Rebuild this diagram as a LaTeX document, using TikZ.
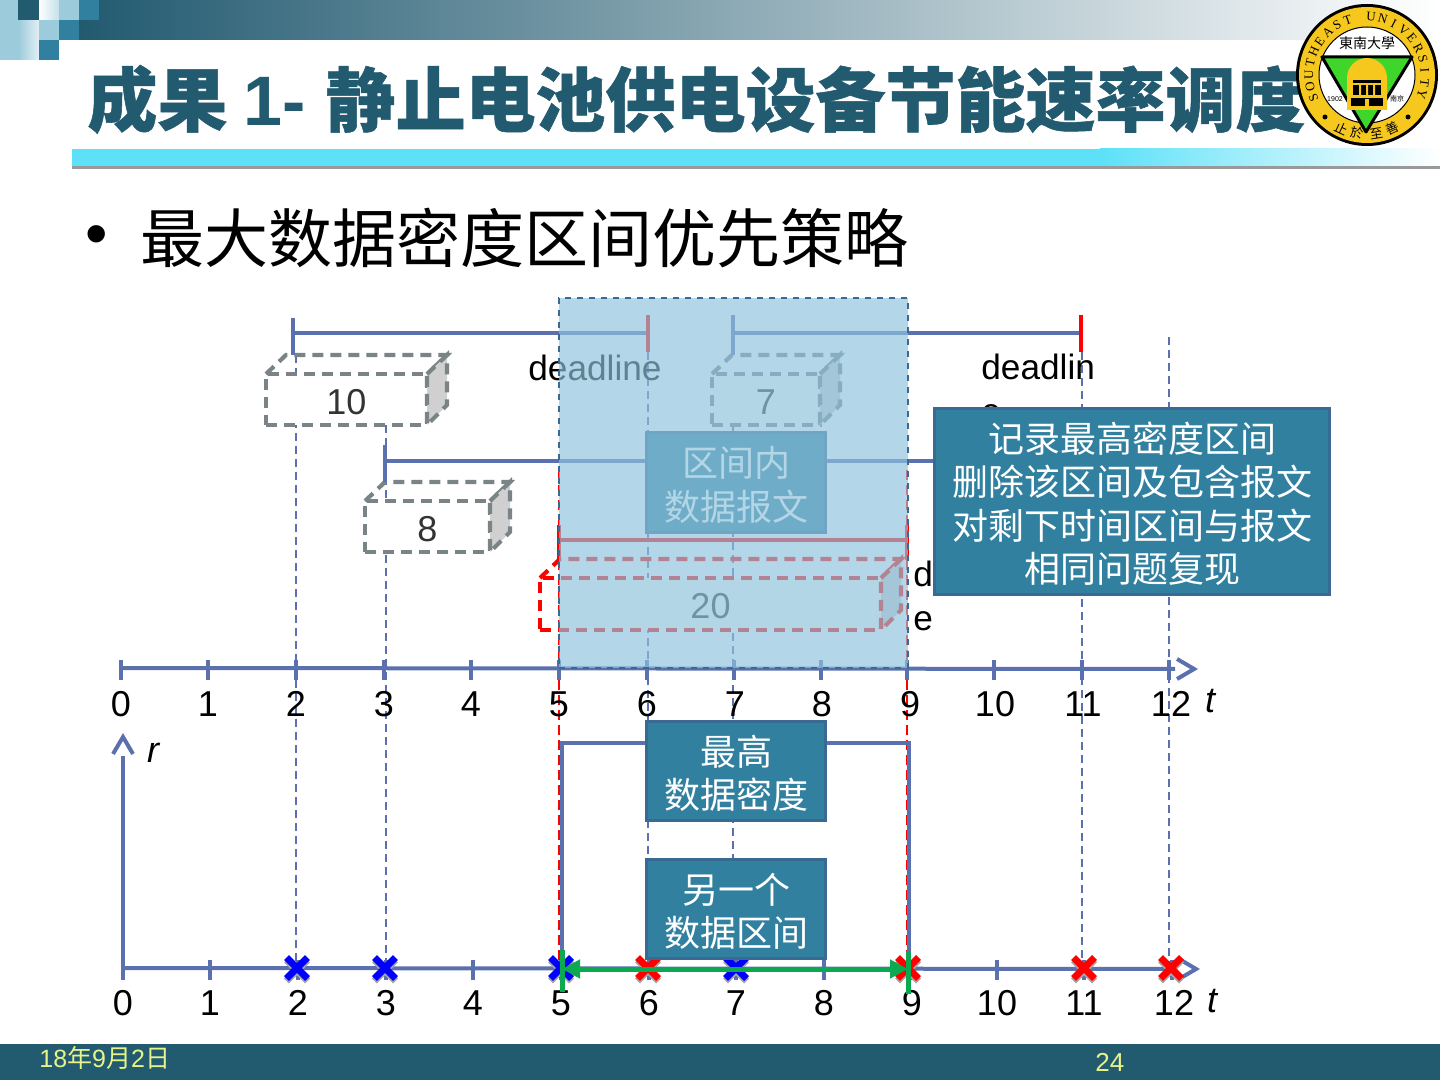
\documentclass[tikz,border=0pt]{standalone}
\usepackage{fontspec}
\setmainfont{Liberation Sans}
\newfontfamily\cjk{Noto Sans CJK SC}
\newfontfamily\cjkbold[FakeBold = 0.8]{Noto Sans CJK SC}
\newfontfamily\logoserif{Liberation Serif}
\usetikzlibrary{positioning, calc, arrows.meta, shapes.misc}
\definecolor{deep}{HTML}{225A70}
\definecolor{teal}{HTML}{31809F}
\definecolor{pale}{HTML}{9CCBDC}
\definecolor{edgeblue}{HTML}{3A6A94}
\definecolor{fnblue}{HTML}{5B70AE}
\definecolor{cubegray}{HTML}{7A8487}
\definecolor{sidegray}{HTML}{D0D0D0}
\definecolor{hotblue}{RGB}{142,195,220}
\definecolor{gold}{HTML}{F6C81E}
\definecolor{leaf}{HTML}{3FD62B}
\definecolor{rulecyan}{HTML}{5CE1F8}
\definecolor{greenline}{HTML}{0BAA50}
\definecolor{footertext}{HTML}{E6F48A}
\newcommand{\lowerfirst}{\rule{0pt}{17.5pt}}
\tikzset{
  x = 0.5pt, y = -0.5pt,
  label18/.style = {font = \fontsize{18}{21.6}\selectfont, inner sep = 0pt, align = left},
  deadline/.style = {font = \fontsize{17.6}{21.6}\selectfont, inner sep = 0pt, align = left},
  tick/.style = {draw = fnblue, line width = 2pt},
  axis/.style = {tick, -{.Straight Barb[length = 8.5pt, width = 10pt]}},
  bracket/.style = {draw = fnblue, line width = 2pt},
  redtick/.style = {draw = red, line width = 2pt},
  guide/.style = {draw = fnblue, line width = 0.6pt, dash pattern = on 4pt off 2.5pt},
  redguide/.style = {draw = red, line width = 1pt, dash pattern = on 5pt off 2.5pt},
  cube/.style = {draw = #1, line width = 2.1pt, dash pattern = on 5.5pt off 3.5pt, fill = white, outer sep = 0pt,
    inner sep = 0pt, font = \fontsize{18}{18}\selectfont, text = black!80, minimum height = 25.5pt, text height = 15pt},
  cubeface/.style = {draw = #1, line width = 2.1pt, dash pattern = on 5.5pt off 3.5pt},
  note/.style = {draw = edgeblue, line width = 1.5pt, fill = teal, text = white, inner sep = 0pt, outer sep = 0pt,
    align = center, font = \fontsize{18}{21.6}\selectfont\cjk},
  markx/.style = {cross out, draw = #1, line width = 3.5pt, minimum size = 7pt, inner sep = 0pt},
  interval/.style = {draw = greenline, line width = 2.5pt}
}

\begin{document}
\begin{tikzpicture}

\useasboundingbox (0,0) rectangle (1440,1080);

% header
\shade [left color = deep, right color = white] (79,0) rectangle (1440,40);
\fill [pale] (0,0) rectangle (18,60);
\shade [left color = pale, right color = pale!30] (18,20) rectangle (39,60);
\fill [deep] (18,0) rectangle (39,20);
\shade [left color = white, right color = pale!60] (39,0) rectangle (59,20);
\fill [pale] (59,0) rectangle (79,20);
\fill [teal] (79,0) rectangle (99,20);
\fill [pale] (39,20) rectangle (59,40);
\fill [teal] (59,20) rectangle (79,40);
\fill [teal] (39,40) rectangle (59,60);

\fill [rulecyan] (72,149) rectangle (1100,166);
\shade [left color = rulecyan, right color = white] (1100,149) rectangle (1440,166);
\fill [black!40] (72,166) rectangle (1440,169);

\node [anchor = base west, inner sep = 0pt, text = deep, font = \fontsize{35}{35}\selectfont\bfseries] (title) at (87,126)
  {{\cjkbold 成果}\kern-1.5pt{} 1- {\cjkbold 静止电池供电设备节能速率调度}};

% logo
\begin{scope}[shift = {(1367,75)}, x = 0.5pt, y = 0.5pt]
  \fill [black] (0,0) circle (71);
  \fill [gold] (0,0) circle (68);
  \draw [fill = white, line width = 0.5pt] (0,0) circle (48);
  \foreach \c [count = \k] in {S,O,U,T,H,E,A,S,T,{},U,N,I,V,E,R,S,I,T,Y} {
    \pgfmathsetmacro\ang{203 - 11.7*(\k - 1)}
    \node [rotate = \ang - 90, inner sep = 0pt, font = \fontsize{6.5}{6.5}\selectfont\logoserif] (lt\k) at (\ang:58) {\c};
  }
  \node [inner sep = 0pt, font = \fontsize{7}{7}\selectfont\cjk] (lname) at (0,32) {東南大學};
  \foreach \c/\ang [count = \k] in {止/245,於/260,至/279,善/295} {
    \node [rotate = \ang + 90, inner sep = 0pt, font = \fontsize{6.5}{6.5}\selectfont\cjk] (lm\k) at (\ang:59) {\c};
  }
  \draw [fill = leaf, line width = 1.5pt, line join = round] (-45,18) -- (45,18) -- (-1,-57) -- cycle;
  \fill [gold] (-20,-35) -- (-20,-3) arc [start angle = 180, end angle = 0, radius = 20] -- (20,-35) -- cycle;
  \fill [black] (-14,-8) rectangle (14,-5);
  \fill [black] (-14,-20) rectangle (14,-10);
  \fill [black] (-16,-31) rectangle (16,-23);
  \fill [gold] \foreach \xx in {-8,-1,6} {(\xx,-20) rectangle ++(2,10)};
  \fill [gold] (-2,-31) rectangle (2,-24);
  \node [inner sep = 0pt, font = \fontsize{3.5}{3.5}\selectfont] (lyear) at (-32,-24) {1902};
  \node [inner sep = 0pt, font = \fontsize{3.5}{3.5}\selectfont\cjk] (lcity) at (30,-24) {南京};
  \fill [black] (-42,-42) circle (2.5) (41,-42) circle (2.5);
\end{scope}

% bullet
\node [anchor = base, inner sep = 0pt, font = \fontsize{32}{32}\selectfont] (bullet) at (97,256) {•};
\node [anchor = base west, inner sep = 0pt, font = \fontsize{32}{32}\selectfont\cjk] (head) at (140,263) {最大数据密度区间优先策略};

% guides
\foreach \g/\x/\ya/\yb in {g2/296/355/968, g3/386/425/968, g6/648/352/968, g7/733/425/968, g11/1082/352/968, g12/1169/337/968} {
  \coordinate (\g a) at (\x,\ya);
  \coordinate (\g b) at (\x,\yb);
  \draw [guide] (\g a) -- (\g b);
}
\coordinate (g5a) at (559,470);
\coordinate (g5b) at (559,965);
\coordinate (g9a) at (907,470);
\coordinate (g9b) at (907,965);

% packets
\node [cube = cubegray, minimum width = 80.5pt] (c10) at (346.5,399.5) {10};
\draw [cubeface = cubegray] (c10.north west) -- ++(20,-19) -- ++(161,0) -- (c10.north east);
\draw [cubeface = cubegray, fill = sidegray] (c10.north east) -- ++(20,-19) -- ++(0,50) -- (c10.south east) -- cycle;

\node [cube = cubegray, minimum width = 54pt] (c7) at (766,399.5) {7};
\draw [cubeface = cubegray] (c7.north west) -- ++(20,-19) -- ++(108,0) -- (c7.north east);
\draw [cubeface = cubegray, fill = sidegray] (c7.north east) -- ++(20,-19) -- ++(0,50) -- (c7.south east) -- cycle;

\node [cube = cubegray, minimum width = 62.5pt] (c8) at (427.5,526.5) {8};
\draw [cubeface = cubegray] (c8.north west) -- ++(20,-19) -- ++(125,0) -- (c8.north east);
\draw [cubeface = cubegray, fill = sidegray] (c8.north east) -- ++(20,-19) -- ++(0,50) -- (c8.south east) -- cycle;

\node [cube = red, minimum width = 170.5pt, minimum height = 26pt] (c20) at (710.5,604) {20};
\draw [cubeface = red] (c20.north west) -- ++(20,-19) -- ++(341,0) -- (c20.north east);
\draw [cubeface = red, fill = sidegray] (c20.north east) -- ++(20,-19) -- ++(0,51) -- (c20.south east) -- cycle;

% brackets
\coordinate (b10s) at (293,333);
\coordinate (b10e) at (648,333);
\coordinate (b7s) at (733,333);
\coordinate (b7e) at (1081,333);
\coordinate (b8s) at (385,461);
\coordinate (b8e) at (1000,461);
\coordinate (b20s) at (559,540);
\coordinate (b20e) at (907,540);
\draw [bracket] (b10s) -- (b10e);
\draw [bracket] (b7s) -- (b7e);
\draw [bracket] (b8s) -- (b8e);
\draw [redtick] (b20s) -- (b20e);
\draw [bracket] ($(b10s)+(0,-15)$) -- ($(b10s)+(0,22)$);
\draw [bracket] ($(b7s)+(0,-18)$) -- ($(b7s)+(0,22)$);
\draw [bracket] ($(b8s)+(0,-16)$) -- ($(b8s)+(0,21)$);
\draw [redtick] ($(b10e)+(0,-18)$) -- ($(b10e)+(0,19)$);
\draw [redtick] ($(b7e)+(0,-18)$) -- ($(b7e)+(0,19)$);
\draw [redtick] ($(b20s)+(0,-15)$) -- ($(b20s)+(0,20)$);
\draw [redtick] ($(b20e)+(0,-15)$) -- ($(b20e)+(0,20)$);
\draw [redguide] (g5a) -- (g5b);
\draw [redguide] (g9a) -- (g9b);

\node [deadline, anchor = base west] (dl10) at (528,381) {deadline};
\node [deadline, anchor = north west] (dl7) at (981,354) {deadlin\\e};
\node [deadline, anchor = north west] (dl20) at (913,561) {d\\e};

% time axis
\coordinate (ta s) at (121,668);
\coordinate (ta e) at (1198,669);
\draw [axis] (ta s) -- (ta e);
\foreach \i/\x/\xt in {0/121/121, 1/208/208, 2/296/296, 3/384/384, 4/471/471, 5/559/559, 6/647/647, 7/734/735, 8/821/822, 9/907/910, 10/994/995, 11/1082/1083, 12/1169/1171} {
  \draw [tick] (\x,660) -- (\x,680);
  \node [label18] (ta\i) at (\xt,704) {\i};
}
\node [label18, font = \fontsize{18}{18}\selectfont\itshape] (tat) at (1210,701) {t};

\node [note, minimum width = 89.5pt, minimum height = 50pt] (inside) at (736,482.5) {\lowerfirst 区间内\\数据报文};

\node [draw = edgeblue, dashed, line width = 1pt, fill = hotblue, fill opacity = 0.67, draw opacity = 1, outer sep = 0pt,
  minimum width = 174.5pt, minimum height = 185pt, inner sep = 0pt, anchor = north west] (hot) at (559,298) {};

% rate axis
\coordinate (ra o) at (123,968);
\coordinate (ra x) at (1200,969);
\coordinate (ra y) at (123,733);
\draw [axis] (ra o) -- (ra x);
\draw [axis] (ra o) -- (ra y);
\foreach \i/\x/\xt in {0/123/123, 1/210/210, 2/298/298, 3/386/386, 4/473/473, 5/561/561, 6/649/649, 7/736/736, 8/824/824, 9/912/912, 10/997/997, 11/1084/1084, 12/1172/1174} {
  \draw [tick] (\x,960) -- (\x,980);
  \node [label18] (ra\i) at (\xt,1003) {\i};
}
\node [label18, font = \fontsize{18}{18}\selectfont\itshape] (rar) at (153,753) {r};
\node [label18, font = \fontsize{18}{18}\selectfont\itshape] (rat) at (1212,1001) {t};

\coordinate (r5b) at (562,968);
\coordinate (r5t) at (562,743);
\coordinate (r9t) at (909,743);
\coordinate (r9b) at (909,968);
\draw [tick] (r5b) -- (r5t) -- (r9t) -- (r9b);

\foreach \m/\x/\c in {m2/297/blue, m3/385/blue, m5/561/blue, m7/736/blue, m6/648/red, m9/908/red, m11/1084/red, m12/1171/red} {
  \node [markx = black!35] (\m s) at (\x,970.5) {};
  \node [markx = \c] (\m) at (\x,968) {};
}

% notes
\node [note, minimum width = 197.5pt, minimum height = 93pt] (rule) at (1132,501.5)
  {\lowerfirst 记录最高密度区间\\删除该区间及包含报文\\对剩下时间区间与报文\\相同问题复现};
\node [note, minimum width = 89.5pt, minimum height = 49.5pt] (peak) at (736,771) {\lowerfirst 最高\\数据密度};
\node [note, minimum width = 89.5pt, minimum height = 49.5pt] (other) at (736,909) {\lowerfirst 另一个\\数据区间};

% interval
\coordinate (is) at (562,969);
\coordinate (ie) at (908,969);
\draw [interval, {Triangle[length = 9pt, width = 9pt]}-{Triangle[length = 9pt, width = 9pt]}] (is) -- (ie);
\draw [interval] ($(is)+(0,-19)$) -- ($(is)+(0,23)$);
\draw [interval] ($(ie)+(0,-18)$) -- ($(ie)+(0,25)$);

% footer
\fill [deep] (0,1044) rectangle (1440,1080);
\node [anchor = base west, inner sep = 0pt, text = footertext, font = \fontsize{12.5}{12.5}\selectfont] (date) at (39,1067) {18{\cjk 年}9{\cjk 月}2{\cjk 日}};
\node [anchor = base west, inner sep = 0pt, text = footertext, font = \fontsize{13}{13}\selectfont] (page) at (1095,1071) {24};

\end{tikzpicture}
\end{document}
